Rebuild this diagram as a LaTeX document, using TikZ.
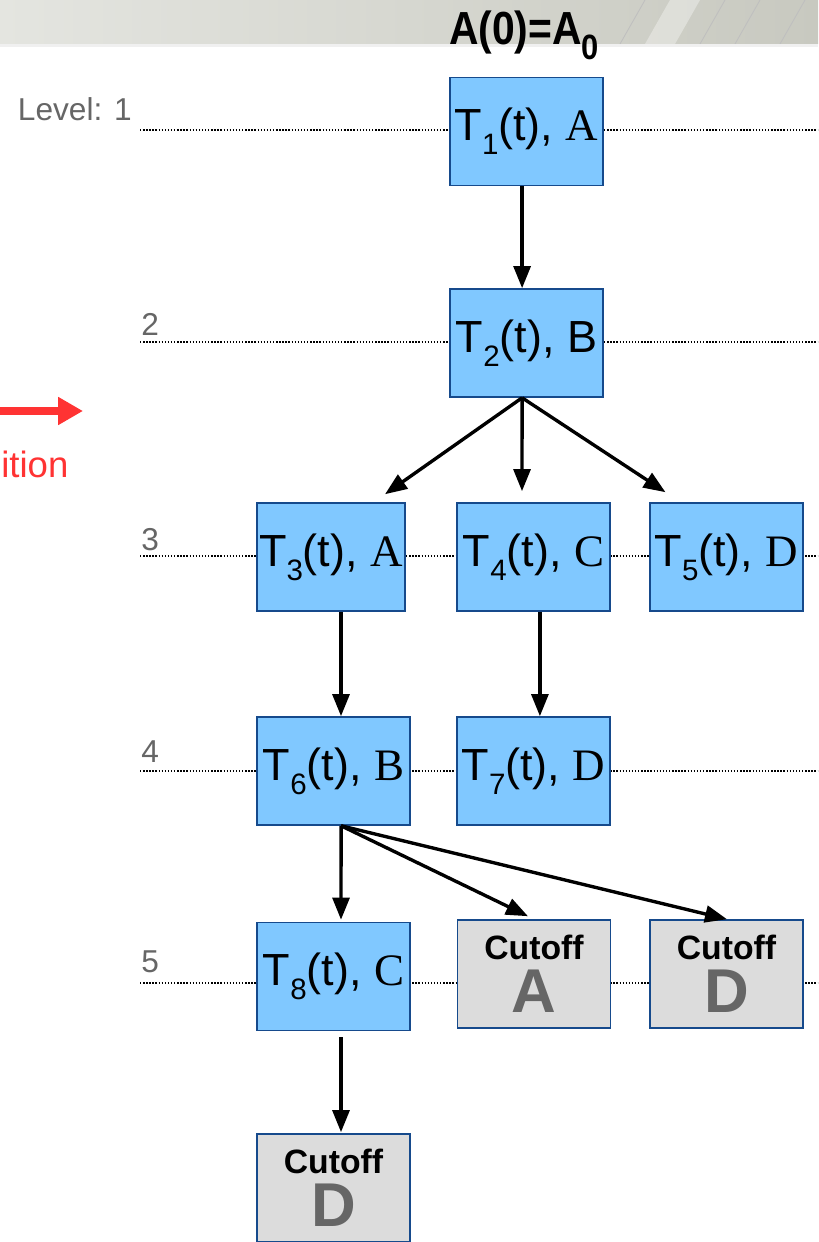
\documentclass[tikz,border=0pt]{standalone}
\usepackage{fontspec}
\setmainfont{Liberation Sans}
\newfontfamily\serifletter{Liberation Serif}
\usetikzlibrary{arrows.meta,calc}

\definecolor{taskblue}{RGB}{128,200,255}
\definecolor{taskedge}{RGB}{22,74,140}
\definecolor{cutgray}{RGB}{220,220,220}
\definecolor{levelgray}{RGB}{102,102,102}
\definecolor{hintred}{RGB}{255,51,51}

% subscript used in the task labels
\newcommand{\tsub}[1]{\raisebox{-10pt}{\fontsize{21}{21}\selectfont #1}}
\newcommand{\task}[2]{T\tsub{#1}(t), #2}
\newcommand{\cutlabel}[1]{Cutoff\\[6pt]{\fontsize{44}{44}\selectfont\color{levelgray}#1}}

\begin{document}
\begin{tikzpicture}[
    x=0.025cm, y=-0.025cm,
    >={Triangle[length=0.55cm,width=0.42cm]},
    taskbox/.style={draw=taskedge, line width=1.1pt, fill=taskblue, rectangle,
        minimum width=3.82cm, minimum height=2.7cm, inner sep=0pt,
        font=\fontsize{32}{36}\selectfont},
    cutbox/.style={taskbox, fill=cutgray, align=center, font=\fontsize{24}{26}\selectfont\bfseries},
    arrow/.style={->, line width=2.4pt, draw=black},
    levelline/.style={line width=1pt, dash pattern=on 1pt off 1.2pt},
    levellabel/.style={text=levelgray, inner sep=0pt, font=\fontsize{22.5}{24}\selectfont}
]
  \useasboundingbox (0,0) rectangle (818,1242);
  \clip (0,0) rectangle (818,1242);

  % slide header
  \shade[left color={rgb,255:red,228;green,229;blue,224}, right color={rgb,255:red,200;green,201;blue,192}]
    (0,0) rectangle (818,44);
  \begin{scope}
    \clip (0,0) rectangle (818,44);
    \fill[white, opacity=0.35] (645,44) -- (670,0) -- (700,0) -- (675,44) -- cycle;
    \draw[gray!50, line width=0.6pt] (620,44) -- (645,0) (700,44) -- (725,0)
      (735,44) -- (760,0) (780,44) -- (805,0);
  \end{scope}
  \fill[gray!12] (0,44) rectangle (818,47);
  \node[inner sep=0pt, anchor=base, font=\bfseries\fontsize{33}{33}\selectfont, xscale=0.88] (title) at (524,45)
    {A(0)=A\raisebox{-0.32em}{\fontsize{25}{25}\selectfont 0}};

  % levels
  \node[levellabel, anchor=base east] (lv1) at (132,120) {Level: 1};
  \node[levellabel, anchor=base west] (lv2) at (141,335) {2};
  \node[levellabel, anchor=base west] (lv3) at (141,550) {3};
  \node[levellabel, anchor=base west] (lv4) at (141,762) {4};
  \node[levellabel, anchor=base west] (lv5) at (141,972) {5};
  \draw[levelline] (140,130) -- (818,130);
  \draw[levelline] (140,342) -- (818,342);
  \draw[levelline] (140,556) -- (818,556);
  \draw[levelline] (140,771) -- (818,771);
  \draw[levelline] (140,983) -- (818,983);

  % red hint at the left border
  \coordinate (hintstart) at (-5,411);
  \coordinate (hintend) at (83,411);
  \draw[-{Triangle[length=0.62cm,width=0.66cm]}, line width=5.2pt, hintred] (hintstart) -- (hintend);
  \node[text=hintred, anchor=base west, inner sep=0pt, font=\fontsize{26}{28}\selectfont] (hint) at (1,477) {ition};

  % tasks
  \node[taskbox] (t1) at (526.5,131.5) {\task{1}{\serifletter A}};
  \node[taskbox] (t2) at (526.5,343) {\task{2}{B}};
  \node[taskbox, minimum width=3.7cm] (t3) at (331,557) {\task{3}{\serifletter A}};
  \node[taskbox] (t4) at (533.5,557) {\task{4}{\serifletter C}};
  \node[taskbox] (t5) at (726.5,557) {\task{5}{\serifletter D}};
  \node[taskbox] (t6) at (333.5,771) {\task{6}{\serifletter B}};
  \node[taskbox] (t7) at (533.5,771) {\task{7}{\serifletter D}};
  \node[taskbox] (t8) at (333.5,976.5) {\task{8}{\serifletter C}};

  % cut off branches
  \node[cutbox] (cutA) at (534,974) {\cutlabel{A}};
  \node[cutbox] (cutD) at (726.5,974) {\cutlabel{D}};
  \node[cutbox] (cutDD) at (333.5,1188) {\cutlabel{D}};

  \draw[arrow] ([xshift=-0.11cm]t1.south) -- ([xshift=-0.11cm]t2.north);
  \draw[arrow] ([xshift=-0.11cm]t2.south) -- ([shift={(54,-8)}]t3.north);
  \draw[arrow] ([xshift=-0.11cm]t2.south) -- ([shift={(-11.5,-11)}]t4.north);
  \draw[arrow] ([xshift=-0.11cm]t2.south) -- ([shift={(-61,-10)}]t5.north);
  \draw[arrow] ([xshift=0.25cm]t3.south) -- ([xshift=0.25cm]t3.south |- t6.north);
  \draw[arrow] ([xshift=0.16cm]t4.south) -- ([xshift=0.16cm]t4.south |- t7.north);
  \draw[arrow] ([xshift=0.19cm]t6.south) -- ([shift={(7.5,-2)}]t8.north);
  \draw[arrow] ([xshift=0.19cm]t6.south) -- ([shift={(-6,-3)}]cutA.north);
  \draw[arrow] ([xshift=0.19cm]t6.south) -- ([shift={(0.5,0)}]cutD.north);
  \draw[arrow] ([shift={(7.5,6)}]t8.south) -- ([shift={(7.5,-1)}]cutDD.north);
\end{tikzpicture}
\end{document}
